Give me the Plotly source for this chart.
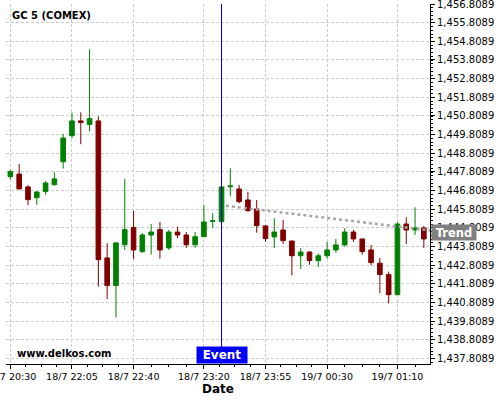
import plotly.graph_objects as go

# ----------------------------
# DATA
# ----------------------------
opens = [1447.55, 1447.69, 1447.00, 1446.42, 1446.75, 1447.12, 1448.35, 1449.75,
         1450.54, 1450.35, 1450.54, 1443.19, 1441.71, 1443.90, 1444.82, 1443.53,
         1444.42, 1444.71, 1443.73, 1444.58, 1444.42, 1443.90, 1444.33, 1445.16,
         1445.14, 1447.01, 1446.89, 1446.30, 1445.82, 1444.91, 1444.32, 1444.69,
         1444.10, 1443.31, 1443.51, 1443.05, 1443.31, 1443.62, 1443.89, 1444.58,
         1444.21, 1443.62, 1442.91, 1442.30, 1441.22, 1445.01, 1444.69, 1444.80]
highs = [1447.91, 1448.23, 1447.10, 1446.75, 1447.32, 1447.79, 1449.84, 1450.98,
         1451.00, 1454.38, 1450.79, 1443.98, 1444.00, 1447.43, 1445.71, 1444.53,
         1445.01, 1445.12, 1444.69, 1444.87, 1444.58, 1444.58, 1446.02, 1445.59,
         1447.00, 1448.00, 1447.10, 1446.73, 1446.30, 1444.94, 1445.32, 1445.23,
         1444.10, 1443.73, 1443.53, 1443.44, 1444.06, 1444.21, 1444.78, 1444.69,
         1444.21, 1443.89, 1443.19, 1442.46, 1445.11, 1445.37, 1445.91, 1444.91]
lows = [1447.41, 1446.87, 1446.02, 1446.05, 1446.58, 1447.07, 1447.98, 1449.61,
        1449.29, 1449.98, 1441.65, 1440.98, 1440.01, 1443.62, 1443.15, 1443.47,
        1443.37, 1443.15, 1443.62, 1444.26, 1443.73, 1443.73, 1444.33, 1444.80,
        1445.14, 1446.50, 1446.12, 1445.67, 1444.55, 1444.05, 1443.73, 1443.94,
        1442.26, 1442.60, 1442.82, 1442.71, 1443.15, 1443.47, 1443.80, 1444.05,
        1443.37, 1442.80, 1441.30, 1440.76, 1441.22, 1443.94, 1444.42, 1443.73]
closes = [1447.82, 1446.89, 1446.32, 1446.73, 1447.21, 1447.43, 1449.62, 1450.54,
          1450.45, 1450.66, 1443.10, 1441.71, 1444.00, 1444.71, 1443.62, 1444.42,
          1444.58, 1443.62, 1444.58, 1444.42, 1443.90, 1444.33, 1445.12, 1445.19,
          1447.00, 1447.05, 1446.21, 1445.73, 1444.92, 1444.23, 1444.58, 1444.12,
          1443.31, 1443.51, 1443.05, 1443.31, 1443.62, 1443.89, 1444.58, 1444.21,
          1443.53, 1442.94, 1442.30, 1441.22, 1445.01, 1444.69, 1444.80, 1444.21]

tick_pos = [0, 7, 14, 22, 29, 36, 44]
tick_text = ["18/7 20:30", "18/7 22:05", "18/7 22:40", "18/7 23:20",
             "18/7 23:55", "19/7 00:30", "19/7 01:10"]

event_idx = 24
trend_x = [24.5, 48]
trend_y = [1445.99, 1444.65]

FONT = "DejaVu Sans"
idx = list(range(len(opens)))

# minor ticks: quarters between major ticks
minor_vals = []
for a, b in zip(tick_pos[:-1], tick_pos[1:]):
    minor_vals += [a + (b - a) * k / 4 for k in range(1, 4)]
minor_vals += [tick_pos[-1] + (tick_pos[-1] - tick_pos[-2]) * k / 4 for k in range(1, 3)]

# ----------------------------
# FIGURE
# ----------------------------
fig = go.Figure()

fig.add_trace(go.Candlestick(
    x=idx, open=opens, high=highs, low=lows, close=closes,
    increasing=dict(line=dict(color="#008000", width=1), fillcolor="#008000"),
    decreasing=dict(line=dict(color="#800000", width=1), fillcolor="#800000"),
    whiskerwidth=0,
    showlegend=False,
    hoverinfo="skip"
))

fig.add_trace(go.Scatter(
    x=trend_x, y=trend_y, mode="lines",
    line=dict(color="#a6a6a6", width=2.5, dash="dot"),
    showlegend=False, hoverinfo="skip"
))

fig.add_shape(type="line", xref="x", yref="paper",
              x0=event_idx, x1=event_idx, y0=0, y1=1,
              line=dict(color="#0000cc", width=1))

fig.update_layout(
    width=500, height=400,
    margin=dict(l=6, r=70, t=4, b=36, autoexpand=False),
    paper_bgcolor="white",
    plot_bgcolor="white",
    font=dict(family=FONT, size=10, color="black"),
    boxgap=0.25,
    xaxis=dict(
        range=[-0.5, 47.7],
        automargin=False,
        tickmode="array", tickvals=tick_pos, ticktext=tick_text,
        tickfont=dict(size=9.5),
        ticklabeloverflow="allow",
        ticks="outside", ticklen=4, tickcolor="black",
        showline=True, linecolor="black", linewidth=1,
        showgrid=True, gridcolor="#cccccc", griddash="3px,2px", gridwidth=1,
        zeroline=False,
        rangeslider=dict(visible=False),
        minor=dict(tickmode="array", tickvals=minor_vals, ticks="outside",
                   ticklen=2, tickcolor="black", showgrid=False),
        title=dict(text="<b>Date</b>", font=dict(size=12), standoff=2),
    ),
    yaxis=dict(
        side="right",
        automargin=False,
        range=[1437.503, 1456.81],
        tick0=1437.8089, dtick=1, tickformat=",.4f",
        tickfont=dict(size=10),
        ticklabeloverflow="allow",
        ticks="outside", ticklen=4, tickcolor="black",
        showline=True, linecolor="black", linewidth=1,
        showgrid=True, gridcolor="#cccccc", griddash="3px,2px", gridwidth=1,
        zeroline=False,
        minor=dict(dtick=0.2, ticks="outside", ticklen=2, tickcolor="black",
                   showgrid=False),
    ),
    annotations=[
        dict(text="<b>GC 5 (COMEX)</b>", xref="paper", yref="paper",
             x=0.0094, y=0.969, xanchor="left", yanchor="middle",
             showarrow=False, font=dict(size=10)),
        dict(text="<b>www.delkos.com</b>", xref="paper", yref="paper",
             x=0.021, y=0.028, xanchor="left", yanchor="middle",
             showarrow=False, font=dict(size=10)),
        dict(text="<b>Event</b>", xref="x", yref="paper",
             x=event_idx, y=0, xanchor="center", yanchor="bottom",
             showarrow=False, bgcolor="#0000ff", width=50, height=16,
             borderpad=0, font=dict(size=12, color="white")),
        dict(text="<b>Trend</b>", xref="paper", yref="y",
             x=1.002, y=1444.56, xanchor="left", yanchor="middle",
             showarrow=False, bgcolor="#808080", width=44, height=15,
             borderpad=0, font=dict(size=11.5, color="white")),
    ],
)

fig.write_html("out.html", config={"displayModeBar": False},
               post_script="document.body.style.margin='0';")
